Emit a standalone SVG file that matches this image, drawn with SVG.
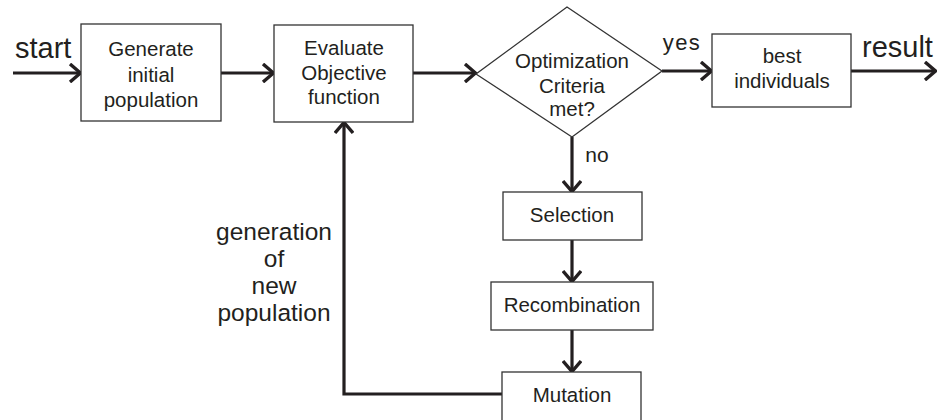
<svg xmlns="http://www.w3.org/2000/svg" width="937" height="420" viewBox="0 0 937 420">
  <style>
    .box { fill: #ffffff; stroke: #333333; stroke-width: 1.3; }
    .lbl { font-family: "Liberation Sans", Arial, sans-serif; font-size: 20.5px; fill: #231f20; text-anchor: middle; }
    .side { font-size: 24.5px; }
    .big { font-family: "Liberation Sans", Arial, sans-serif; font-size: 29px; fill: #231f20; }
    .flow { fill: none; stroke: #231f20; stroke-width: 3.2; marker-end: url(#chev); }
  </style>
  <defs>
    <marker id="chev" markerUnits="userSpaceOnUse" viewBox="-14 -10 16 20" refX="0" refY="0" markerWidth="16" markerHeight="20" orient="auto">
      <path d="M-11,-9 L-0.5,0 L-11,9" fill="none" stroke="#231f20" stroke-width="3.4"/>
    </marker>
  </defs>

  <rect width="937" height="420" fill="#ffffff"/>

  <!-- connectors and their labels -->
  <g id="connectors">
    <line class="flow" x1="13" y1="73" x2="81" y2="73"/>
    <line class="flow" x1="221" y1="73" x2="274" y2="73"/>
    <line class="flow" x1="413" y1="73" x2="476" y2="73"/>
    <line class="flow" x1="662" y1="71" x2="712" y2="71"/>
    <line class="flow" x1="851" y1="71" x2="936" y2="71"/>
    <line class="flow" x1="572" y1="137" x2="572" y2="192"/>
    <line class="flow" x1="572" y1="240" x2="572" y2="282"/>
    <line class="flow" x1="572" y1="330" x2="572" y2="372"/>
    <polyline class="flow" points="502,394 344,394 344,122"/>
    <text class="big" x="15" y="58">start</text>
    <text class="big" x="862" y="57">result</text>
    <text class="lbl" x="682" y="50" style="font-size:22px;letter-spacing:1.5px">yes</text>
    <text class="lbl" x="597" y="162" style="font-size:21px">no</text>
    <text class="lbl side" x="274" y="240">generation</text>
    <text class="lbl side" x="274" y="267">of</text>
    <text class="lbl side" x="274" y="294">new</text>
    <text class="lbl side" x="274" y="321">population</text>
  </g>

  <g id="generate">
    <rect class="box" x="81" y="24" width="140" height="97"/>
    <text class="lbl" x="151" y="56">Generate</text>
    <text class="lbl" x="151" y="82">initial</text>
    <text class="lbl" x="151" y="107">population</text>
  </g>

  <g id="evaluate">
    <rect class="box" x="274" y="25" width="139" height="97"/>
    <text class="lbl" x="344" y="55">Evaluate</text>
    <text class="lbl" x="344" y="80">Objective</text>
    <text class="lbl" x="344" y="104">function</text>
  </g>

  <g id="criteria">
    <polygon class="box" points="567,7 662,71 572,137 476,74"/>
    <text class="lbl" x="572" y="68">Optimization</text>
    <text class="lbl" x="572" y="93">Criteria</text>
    <text class="lbl" x="572" y="116">met?</text>
  </g>

  <g id="best">
    <rect class="box" x="712" y="34" width="139" height="73"/>
    <text class="lbl" x="782" y="63">best</text>
    <text class="lbl" x="782" y="88">individuals</text>
  </g>

  <g id="selection">
    <rect class="box" x="503" y="192" width="139" height="48"/>
    <text class="lbl" x="572" y="222">Selection</text>
  </g>

  <g id="recombination">
    <rect class="box" x="491" y="282" width="162" height="48"/>
    <text class="lbl" x="572" y="312">Recombination</text>
  </g>

  <g id="mutation">
    <rect class="box" x="502" y="372" width="139" height="60"/>
    <text class="lbl" x="572" y="402">Mutation</text>
  </g>
</svg>
